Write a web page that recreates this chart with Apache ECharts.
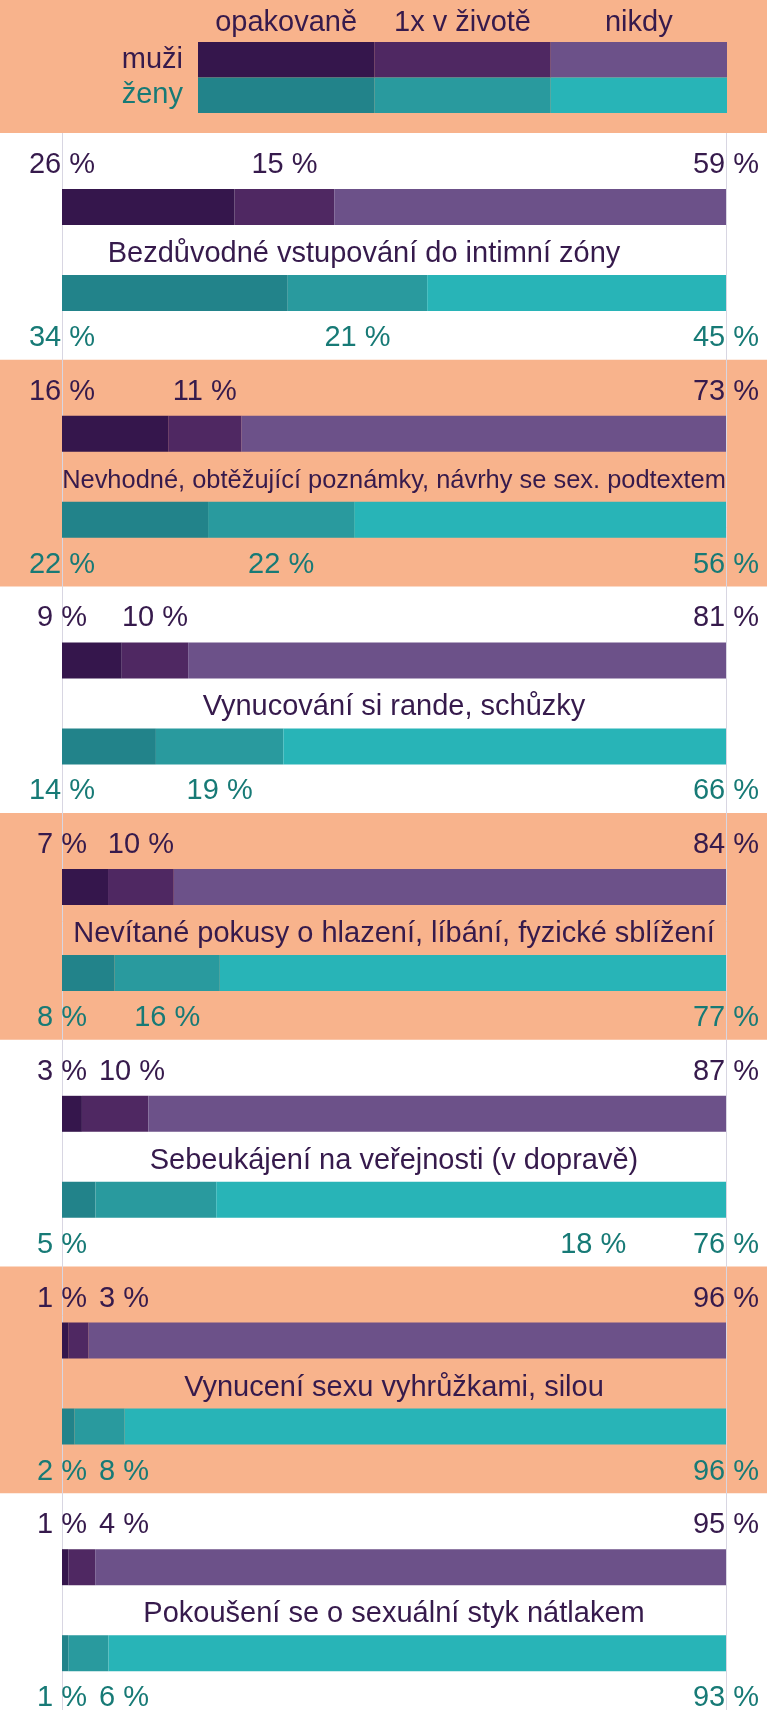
<!DOCTYPE html>
<html>
<head>
<meta charset="utf-8">
<script src="https://cdn.jsdelivr.net/npm/echarts@6/dist/echarts.min.js"></script>
<style>
html,body{margin:0;padding:0;background:#fff;}
#chart{width:767px;height:1710px;}
</style>
</head>
<body>
<div id="chart"></div>
<script>
// ---------- data ----------
const categories = [
  'Bezdůvodné vstupování do intimní zóny',
  'Nevhodné, obtěžující poznámky, návrhy se sex. podtextem',
  'Vynucování si rande, schůzky',
  'Nevítané pokusy o hlazení, líbání, fyzické sblížení',
  'Sebeukájení na veřejnosti (v dopravě)',
  'Vynucení sexu vyhrůžkami, silou',
  'Pokoušení se o sexuální styk nátlakem'
];
const answerNames = ['opakovaně', '1x v životě', 'nikdy'];
const genders = ['muži', 'ženy'];
const menRepeated   = [26, 16, 9, 7, 3, 1, 1];
const menOnce       = [15, 11, 10, 10, 10, 3, 4];
const menNever      = [59, 73, 81, 84, 87, 96, 95];
const womenRepeated = [34, 22, 14, 8, 5, 2, 1];
const womenOnce     = [21, 22, 19, 16, 18, 8, 6];
const womenNever    = [45, 56, 66, 77, 76, 96, 93];

// ---------- style / layout ----------
const FONT = 'Liberation Sans';
const FS = 29;
const menColors = ['#35164c', '#4f2862', '#6c5189'];
const womenColors = ['#22838a', '#299a9e', '#28b4b7'];
const menText = '#361a4c';
const womenText = '#177a76';
const orange = '#f8b38c';
const lineColor = '#d8d6e2';
const W = 767, H = 1710;
const plotLeft = 62, plotRight = 726;
const plotW = plotRight - plotLeft;
const headerH = 133;
const blockH = 226.7;
const titleShift = {0: -30};              // px nudge of the category caption
const midLabelOverride = {4: {w: 80}};    // quirk of the original label placement

const ctx = document.createElement('canvas').getContext('2d');
const tw = (s, fs) => { ctx.font = (fs || FS) + 'px "' + FONT + '"'; return ctx.measureText(s).width; };
const pct = v => v + ' %';

// each row is drawn as a 100 % stacked bar
const share = (vals, k) => {
  const sum = vals.reduce((a, arr) => a + arr[k], 0);
  return vals.map(arr => arr[k] / sum * 100);
};

function midPos(firstShare, midShare, firstVal, midVal) {
  const natural = firstShare + midShare / 2;
  const minPx = tw(pct(firstVal)) / 2 + 12 + tw(pct(midVal)) / 2;
  return Math.max(natural, minPx / plotW * 100);
}

const grids = [], xAxes = [], yAxes = [], series = [], graphics = [];

// background bands
graphics.push({type: 'rect', z: -100, shape: {x: 0, y: 0, width: W, height: headerH}, style: {fill: orange}});
for (let k = 0; k < categories.length; k++) {
  if (k % 2 === 1) {
    graphics.push({type: 'rect', z: -100,
      shape: {x: 0, y: headerH + blockH * k, width: W, height: blockH}, style: {fill: orange}});
  }
}

// grid 0 : vertical reference lines
grids.push({left: plotLeft, width: plotW, top: headerH, bottom: 0});
xAxes.push({gridIndex: 0, type: 'value', min: 0, max: 100, interval: 100,
  axisLine: {show: false}, axisTick: {show: false}, axisLabel: {show: false},
  splitLine: {show: true, lineStyle: {color: lineColor, width: 1}}});
yAxes.push({gridIndex: 0, type: 'value', min: 0, max: 1, show: false});

// grid 1 : legend
grids.push({left: 198, right: W - 727, top: 42, height: 71});
xAxes.push({gridIndex: 1, type: 'value', min: 0, max: answerNames.length, show: false});
yAxes.push({gridIndex: 1, type: 'category', inverse: true,
  data: [{value: genders[0], textStyle: {color: menText}}, {value: genders[1], textStyle: {color: womenText}}],
  axisLine: {show: false}, axisTick: {show: false},
  axisLabel: {interval: 0, fontFamily: FONT, fontSize: FS, margin: 15}});
answerNames.forEach((name, i) => {
  series.push({type: 'bar', name, xAxisIndex: 1, yAxisIndex: 1, stack: 'legend',
    barCategoryGap: '0%', silent: true,
    data: [
      {value: 1, itemStyle: {color: menColors[i]},
       label: {show: true, position: 'top', distance: 5, formatter: name,
               color: menText, fontFamily: FONT, fontSize: FS, textBorderWidth: 0}},
      {value: 1, itemStyle: {color: womenColors[i]}}
    ]});
});

// blocks
const menVals = [menRepeated, menOnce, menNever];
const womenVals = [womenRepeated, womenOnce, womenNever];
categories.forEach((cat, k) => {
  const gi = grids.length;
  const top = headerH + blockH * k + 31;
  const mS = share(menVals, k), wS = share(womenVals, k);
  grids.push({left: plotLeft, width: plotW, top: top, height: 172});
  xAxes.push({gridIndex: gi, type: 'value', min: 0, max: 100, show: false});
  yAxes.push({gridIndex: gi, type: 'category', inverse: true, data: genders, show: false});
  for (let i = 0; i < 3; i++) {
    series.push({type: 'bar', name: answerNames[i], xAxisIndex: gi, yAxisIndex: gi,
      stack: 'b' + k, barWidth: 36, silent: true,
      data: [
        {value: mS[i], itemStyle: {color: menColors[i]}},
        {value: wS[i], itemStyle: {color: womenColors[i]}}
      ]});
  }
  const mMid = midPos(mS[0], mS[1], menRepeated[k], menOnce[k]);
  let wMid = midPos(wS[0], wS[1], womenRepeated[k], womenOnce[k]);
  if (midLabelOverride[k] && midLabelOverride[k].w != null) wMid = midLabelOverride[k].w;
  const lab = (x, g, v, color, dy) => ({
    value: [x, g],
    label: {show: true, position: 'inside', offset: [0, dy], formatter: pct(v),
      color, fontFamily: FONT, fontSize: FS, textBorderWidth: 0, textShadowBlur: 0}
  });
  series.push({type: 'scatter', xAxisIndex: gi, yAxisIndex: gi, symbolSize: 0, silent: true, z: 5,
    itemStyle: {opacity: 1},
    data: [
      lab(0, genders[0], menRepeated[k], menText, -42),
      lab(mMid, genders[0], menOnce[k], menText, -42),
      lab(100, genders[0], menNever[k], menText, -42),
      lab(0, genders[1], womenRepeated[k], womenText, 45),
      lab(wMid, genders[1], womenOnce[k], womenText, 45),
      lab(100, genders[1], womenNever[k], womenText, 45)
    ]});
  // shrink over-long captions so they fit the plot width
  const capW = tw(cat);
  const capFS = capW > plotW ? FS * plotW / capW : FS;
  series.push({type: 'scatter', xAxisIndex: gi, yAxisIndex: gi, symbolSize: 0, silent: true, z: 5,
    itemStyle: {opacity: 1},
    data: [{value: [50, genders[0]],
      label: {show: true, position: 'inside', offset: [titleShift[k] || 0, 47], formatter: cat,
        color: menText, fontFamily: FONT, fontSize: capFS, textBorderWidth: 0}}]});
});

const chart = echarts.init(document.getElementById('chart'), null, {renderer: 'canvas', width: W, height: H});
chart.setOption({
  backgroundColor: '#ffffff',
  animation: false,
  graphic: {z: -100, elements: graphics},
  grid: grids, xAxis: xAxes, yAxis: yAxes, series
});
</script>
</body>
</html>
